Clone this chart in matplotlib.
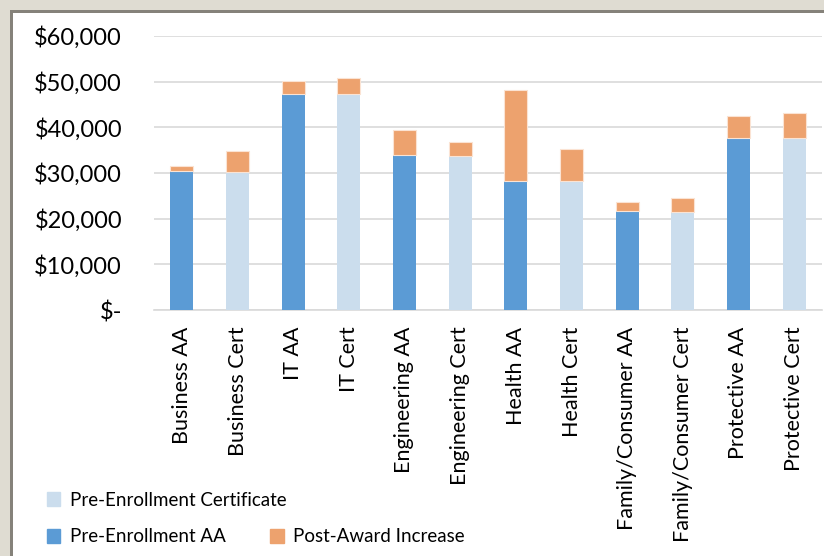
import matplotlib
matplotlib.use('Agg')
import matplotlib.pyplot as plt
from matplotlib.patches import Rectangle, Patch
import numpy as np

# 数据
categories = ['Business AA', 'Business Cert', 'IT AA', 'IT Cert', 'Engineering AA',
              'Engineering Cert', 'Health AA', 'Health Cert', 'Family/Consumer AA',
              'Family/Consumer Cert', 'Protective AA', 'Protective Cert']
pre_aa = [30350, 0, 47250, 0, 33850, 0, 28230, 0, 21600, 0, 37700, 0]
pre_cert = [0, 30260, 0, 47200, 0, 33770, 0, 28160, 0, 21510, 0, 37640]
post_increase = [1100, 4600, 3000, 3570, 5470, 2990, 19910, 7140, 2100, 2990, 4820, 5470]
yticks = [0, 10000, 20000, 30000, 40000, 50000, 60000]
ytick_labels = ['$-', '$10,000', '$20,000', '$30,000', '$40,000', '$50,000', '$60,000']

c_aa = '#5b9bd5'
c_cert = '#cbdded'
c_post = '#eda26e'

plt.rcParams['font.family'] = ['Lato', 'DejaVu Sans']

fig = plt.figure(figsize=(8.24, 5.56), dpi=100)
fig.patch.set_facecolor('#dfdcd2')

# 边框
W, H = 824.0, 556.0
fig.patches.append(Rectangle((10 / W, 0), 1, 546 / H, transform=fig.transFigure,
                             facecolor='#85827a', edgecolor='none', zorder=-2))
fig.patches.append(Rectangle((13 / W, 0), 1, 543 / H, transform=fig.transFigure,
                             facecolor='white', edgecolor='none', zorder=-1))

ax = fig.add_axes([154 / W, 246 / H, 668 / W, 274 / H])
ax.set_zorder(2)
ax.set_facecolor('none')

x = np.arange(len(categories))
bottom2 = np.array(pre_aa) + np.array(pre_cert)
ax.bar(x, pre_cert, width=0.41, color=c_cert, edgecolor='none', zorder=3)
ax.bar(x, pre_aa, width=0.41, color=c_aa, edgecolor='none', zorder=3)
ax.bar(x, post_increase, width=0.41, bottom=bottom2, color=c_post,
       edgecolor='#fbe3d3', linewidth=0.8, zorder=3)

ax.set_xlim(-0.5, len(categories) - 0.5)
ax.set_ylim(0, 60000)
ax.set_yticks(yticks)
ax.set_yticklabels(ytick_labels, fontsize=17)
ax.set_xticks(x)
ax.set_xticklabels(categories, rotation=90, fontsize=15.5, va='top', ha='center')
ax.tick_params(axis='y', length=0, pad=23)
ax.tick_params(axis='x', length=0, pad=12)
ax.yaxis.grid(True, color='#d9d9d9', linewidth=1.2, zorder=0)
ax.set_axisbelow(True)
for s in ['top', 'right', 'left']:
    ax.spines[s].set_visible(False)
ax.spines['bottom'].set_color('#d9d9d9')
ax.spines['bottom'].set_linewidth(1.2)

# 图例
leg1 = fig.legend(handles=[Patch(color=c_cert, label='Pre-Enrollment Certificate')],
                  loc='center left', bbox_to_anchor=(47 / W, 1 - 500 / H),
                  frameon=False, fontsize=13.5, handlelength=0.7, handleheight=0.7,
                  handletextpad=0.5, borderaxespad=0, borderpad=0)
leg2 = fig.legend(handles=[Patch(color=c_aa, label='Pre-Enrollment AA'),
                           Patch(color=c_post, label='Post-Award Increase')],
                  loc='center left', bbox_to_anchor=(47 / W, 1 - 537 / H), ncol=2,
                  frameon=False, fontsize=13.5, handlelength=0.7, handleheight=0.7,
                  handletextpad=0.5, columnspacing=2.4, borderaxespad=0, borderpad=0)

fig.savefig('out.png', dpi=100, facecolor=fig.get_facecolor())
